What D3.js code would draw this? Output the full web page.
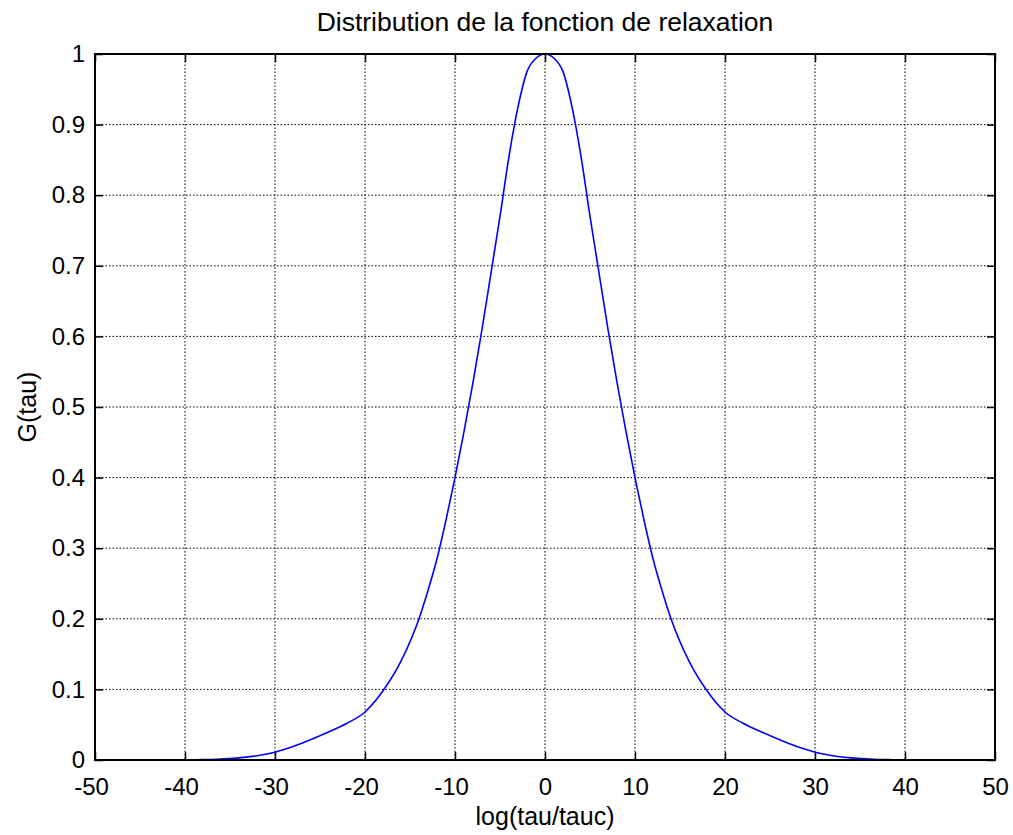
<!DOCTYPE html>
<html>
<head>
<meta charset="utf-8">
<script src="https://cdn.jsdelivr.net/npm/d3@7"></script>
<style>
  body { margin: 0; background: #fff; }
  text { font-family: "Liberation Sans", Arial, Helvetica, sans-serif; fill: #000; }
</style>
</head>
<body>
<svg id="chart" width="1013" height="835"></svg>
<script>
// values (symmetric curve)
var logRatio = [-40,-38,-36,-34,-32,-30,-28,-26,-24,-22,-20,-18,-16,-14,-13,-12,-11,-10,-9,-8,-7,-6,-5,-4,-3,-2,-1,0,
                1,2,3,4,5,6,7,8,9,10,11,12,13,14,16,18,20,22,24,26,28,30,32,34,36,38,40];
var gTau = [0,0.0005,0.0015,0.003,0.006,0.011,0.019,0.029,0.04,0.052,0.068,0.098,0.14,0.2,0.24,0.285,0.34,0.4,0.465,0.535,0.61,0.69,0.77,0.855,0.925,0.975,0.994,1,
            0.994,0.975,0.925,0.855,0.77,0.69,0.61,0.535,0.465,0.4,0.34,0.285,0.24,0.2,0.14,0.098,0.068,0.052,0.04,0.029,0.019,0.011,0.006,0.003,0.0015,0.0005,0];
var xTicks = [-50,-40,-30,-20,-10,0,10,20,30,40,50];
var yTicks = [0,0.1,0.2,0.3,0.4,0.5,0.6,0.7,0.8,0.9,1];
var yTickLabels = ["0","0.1","0.2","0.3","0.4","0.5","0.6","0.7","0.8","0.9","1"];

var svg = d3.select('#chart');
var mLeft = 95, mRight = 995, mTop = 54, mBottom = 760;

var x = d3.scaleLinear().domain([-50, 50]).range([mLeft, mRight]);
var y = d3.scaleLinear().domain([0, 1]).range([mBottom, mTop]);

svg.append('rect').attr('width', 1013).attr('height', 835).attr('fill', '#fff');

// dotted grid
svg.append('g').selectAll('line')
  .data(xTicks.slice(1, -1)).enter().append('line')
  .attr('x1', function(d) { return x(d); }).attr('x2', function(d) { return x(d); })
  .attr('y1', mTop).attr('y2', mBottom)
  .attr('stroke', '#000').attr('stroke-width', 1).attr('stroke-dasharray', '1.5,2');
svg.append('g').selectAll('line')
  .data(yTicks.slice(1, -1)).enter().append('line')
  .attr('y1', function(d) { return y(d); }).attr('y2', function(d) { return y(d); })
  .attr('x1', mLeft).attr('x2', mRight)
  .attr('stroke', '#000').attr('stroke-width', 1).attr('stroke-dasharray', '1.5,2');

// inward ticks on all four sides
var tl = 8;
var axB = d3.axisBottom(x).tickValues(xTicks).tickSizeInner(-tl).tickSizeOuter(0).tickPadding(18)
  .tickFormat(function(d) { return String(d); });
var axT = d3.axisTop(x).tickValues(xTicks).tickSizeInner(-tl).tickSizeOuter(0).tickFormat('');
var axL = d3.axisLeft(y).tickValues(yTicks).tickSizeInner(-tl).tickSizeOuter(0).tickPadding(10)
  .tickFormat(function(d, i) { return yTickLabels[i]; });
var axR = d3.axisRight(y).tickValues(yTicks).tickSizeInner(-tl).tickSizeOuter(0).tickFormat('');

function styleAxis(g) {
  g.select('.domain').remove();
  g.selectAll('.tick line').attr('stroke', '#000').attr('stroke-width', 1.5);
  g.selectAll('.tick text').style('font-size', '24px').attr('font-family', null);
}
var gB = svg.append('g').attr('transform', 'translate(0,' + mBottom + ')').call(axB).call(styleAxis);
gB.selectAll('.tick text').attr('dx', function(d) { return d < 0 ? -4 : 0; });
svg.append('g').attr('transform', 'translate(0,' + mTop + ')').call(axT).call(styleAxis);
svg.append('g').attr('transform', 'translate(' + mLeft + ',0)').call(axL).call(styleAxis);
svg.append('g').attr('transform', 'translate(' + mRight + ',0)').call(axR).call(styleAxis);

// curve
var line = d3.line()
  .curve(d3.curveMonotoneX)
  .x(function(d, i) { return x(logRatio[i]); })
  .y(function(d) { return y(d); });
svg.append('path').datum(gTau)
  .attr('d', line)
  .attr('fill', 'none').attr('stroke', '#0000ff').attr('stroke-width', 1.6);

// box
svg.append('rect')
  .attr('x', mLeft).attr('y', mTop).attr('width', mRight - mLeft).attr('height', mBottom - mTop)
  .attr('fill', 'none').attr('stroke', '#000').attr('stroke-width', 2);

// labels
svg.append('text').attr('x', x(0)).attr('y', 31).attr('text-anchor', 'middle')
  .style('font-size', '26.5px').text('Distribution de la fonction de relaxation');
svg.append('text').attr('x', x(0)).attr('y', 825).attr('text-anchor', 'middle')
  .style('font-size', '25px').text('log(tau/tauc)');
svg.append('text').attr('transform', 'translate(36,' + y(0.5) + ') rotate(-90)')
  .attr('text-anchor', 'middle').style('font-size', '25px').text('G(tau)');
</script>
</body>
</html>
